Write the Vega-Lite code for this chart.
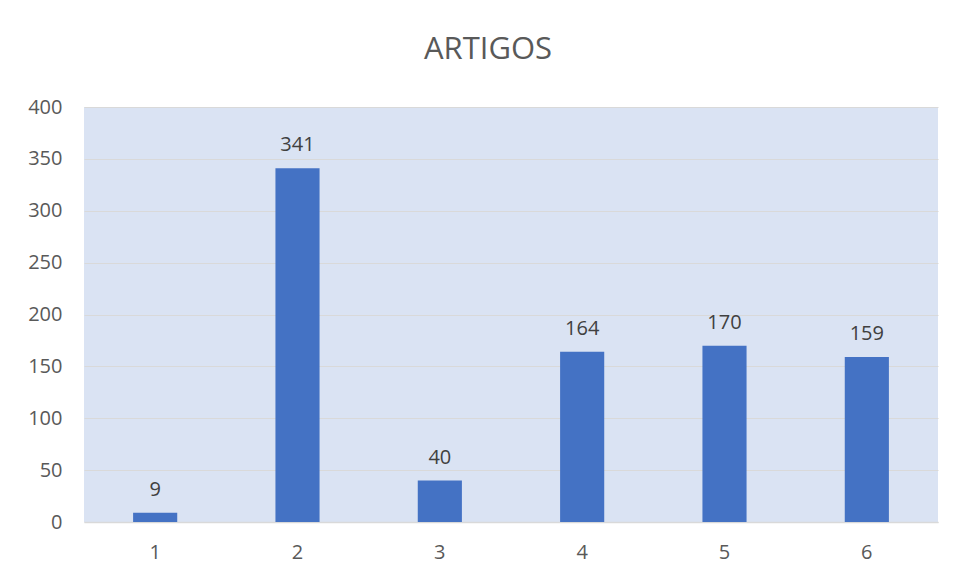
{
  "$schema": "https://vega.github.io/schema/vega-lite/v6.json",
  "width": 854,
  "height": 415,
  "autosize": {"type": "none"},
  "padding": {"left": 84, "top": 107, "right": 19, "bottom": 55},
  "background": "white",
  "title": {
    "text": "ARTIGOS",
    "font": "Open Sans",
    "fontSize": 31,
    "fontWeight": "normal",
    "color": "#595959",
    "anchor": "middle",
    "dx": -23,
    "offset": 31
  },
  "data": {
    "values": [
      {"category": "1", "value": 9},
      {"category": "2", "value": 341},
      {"category": "3", "value": 40},
      {"category": "4", "value": 164},
      {"category": "5", "value": 170},
      {"category": "6", "value": 159}
    ]
  },
  "config": {
    "view": {"fill": "#DAE3F3", "stroke": null},
    "font": "Open Sans"
  },
  "encoding": {
    "x": {
      "field": "category",
      "type": "ordinal",
      "scale": {"paddingInner": 0.69, "paddingOuter": 0.345},
      "axis": {
        "title": null,
        "labelAngle": 0,
        "labelFontSize": 20,
        "labelColor": "#595959",
        "labelFont": "Open Sans",
        "labelPadding": 20,
        "ticks": false,
        "domain": true,
        "domainColor": "#D9D9D9",
        "domainWidth": 1.5,
        "grid": false
      }
    },
    "y": {
      "field": "value",
      "type": "quantitative",
      "scale": {"domain": [0, 400], "nice": false},
      "axis": {
        "title": null,
        "values": [0, 50, 100, 150, 200, 250, 300, 350, 400],
        "labelFontSize": 20,
        "labelColor": "#595959",
        "labelFont": "Open Sans",
        "labelPadding": 22,
        "ticks": false,
        "domain": false,
        "grid": true,
        "gridColor": "#D9D9D9",
        "gridWidth": 1
      }
    }
  },
  "layer": [
    {"mark": {"type": "bar", "color": "#4472C4"}},
    {
      "mark": {
        "type": "text",
        "baseline": "alphabetic",
        "dy": -17,
        "fontSize": 20,
        "color": "#404040",
        "font": "Open Sans"
      },
      "encoding": {"text": {"field": "value", "type": "quantitative"}}
    }
  ]
}
